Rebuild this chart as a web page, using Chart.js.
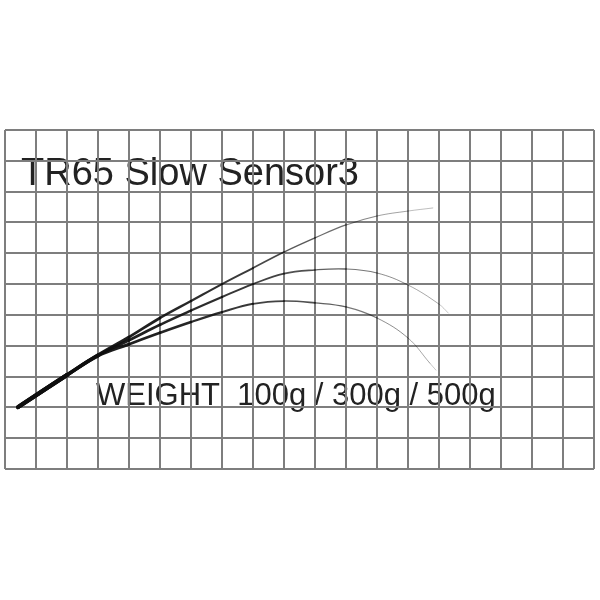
<!DOCTYPE html>
<html>
<head>
<meta charset="utf-8">
<script src="https://cdn.jsdelivr.net/npm/chart.js@4/dist/chart.umd.min.js"></script>
<style>
  html, body { margin: 0; padding: 0; background: #fff; }
  #wrap { width: 600px; height: 600px; }
</style>
</head>
<body>
<div id="wrap"><canvas id="chart" width="600" height="600"></canvas></div>
<script>
// title and weight label
let titleText = 'TR65 Slow Sensor3';
let weightText = 'WEIGHT  100g / 300g / 500g';

// bend curves (grid units)
let x100 = [0.42, 2, 3, 4, 5, 6, 7, 8, 9, 10, 11, 12, 13, 13.8];
let y100 = [2.01, 3.05, 3.7, 4.28, 4.9, 5.45, 6.0, 6.52, 7.04, 7.5, 7.92, 8.21, 8.37, 8.47];

let x300 = [0.42, 2, 3, 4, 5, 6, 7, 8, 9, 10, 11, 12, 13, 14, 14.3];
let y300 = [2.01, 3.05, 3.69, 4.18, 4.68, 5.14, 5.58, 6.0, 6.34, 6.46, 6.49, 6.36, 5.97, 5.35, 5.06];

let x500 = [0.42, 2, 3, 4, 5, 6, 7, 8, 9, 10, 11, 12, 13, 13.7, 13.9];
let y500 = [2.01, 3.05, 3.67, 4.05, 4.42, 4.77, 5.09, 5.36, 5.45, 5.39, 5.26, 4.9, 4.25, 3.44, 3.21];

function pts(xs, ys) {
  return xs.map((v, i) => ({ x: v, y: ys[i] }));
}

// rod gets thinner and lighter toward the tip
function rodLine(label, xs, ys, fadeTo) {
  let n = xs.length - 1;
  return {
    label: label,
    data: pts(xs, ys),
    borderColor: '#111',
    pointRadius: 0,
    tension: 0.4,
    borderCapStyle: 'round',
    segment: {
      borderWidth: ctx => Math.max(1.0, 4.0 - 3.6 * Math.pow(ctx.p0DataIndex / n, 0.7)),
      borderColor: ctx => {
        let a = 0.95 - (0.95 - fadeTo) * Math.pow(ctx.p0DataIndex / n, 2.4);
        return 'rgba(15,15,15,' + a.toFixed(2) + ')';
      }
    }
  };
}

let textPlugin = {
  id: 'labels',
  beforeDraw(chart) {
    let c = chart.ctx;
    c.save();
    c.fillStyle = '#fff';
    c.fillRect(0, 0, chart.width, chart.height);
    c.fillStyle = '#222';
    c.textBaseline = 'alphabetic';
    c.font = '38px "Liberation Sans", Arial, sans-serif';
    c.fillText(titleText, 21, 185);
    c.font = '31px "Liberation Sans", Arial, sans-serif';
    c.fillText(weightText, 96, 405);
    c.restore();
  }
};

let kanvas = document.getElementById('chart');

let grafik = new Chart(kanvas, {
  type: 'line',
  data: {
    datasets: [
      rodLine('100g', x100, y100, 0.12),
      rodLine('300g', x300, y300, 0.1),
      rodLine('500g', x500, y500, 0.1)
    ]
  },
  options: {
    responsive: false,
    animation: false,
    layout: { padding: { left: 5, right: 6, top: 130, bottom: 131 } },
    plugins: { legend: { display: false }, tooltip: { enabled: false } },
    scales: {
      x: {
        type: 'linear', min: 0, max: 19,
        ticks: { display: false, stepSize: 1 },
        grid: { color: '#7e7e7e', lineWidth: 2, drawTicks: false },
        border: { display: false }
      },
      y: {
        type: 'linear', min: 0, max: 11,
        ticks: { display: false, stepSize: 1 },
        grid: { color: '#7e7e7e', lineWidth: 2, drawTicks: false },
        border: { display: false }
      }
    }
  },
  plugins: [textPlugin]
});
</script>
</body>
</html>
